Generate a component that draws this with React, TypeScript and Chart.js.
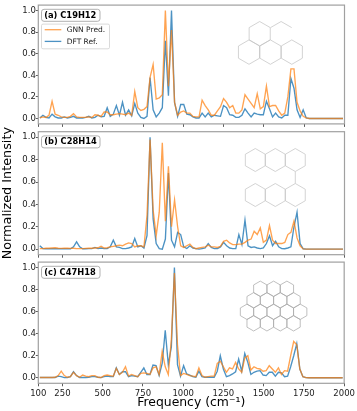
import React, { useEffect, useRef } from "react";
import { Chart, registerables } from "chart.js";

Chart.register(...registerables);

const FONT = "'DejaVu Sans'";

const binCenters = [
  109.5, 128.5, 147.5, 166.5, 185.5, 204.5, 223.5, 242.5, 261.5, 280.5,
  299.5, 318.5, 337.5, 356.5, 375.5, 394.5, 413.5, 432.5, 451.5, 470.5,
  489.5, 508.5, 527.5, 546.5, 565.5, 584.5, 603.5, 622.5, 641.5, 660.5,
  679.5, 698.5, 717.5, 736.5, 755.5, 774.5, 793.5, 812.5, 831.5, 850.5,
  869.5, 888.5, 907.5, 926.5, 945.5, 964.5, 983.5, 1002.5, 1021.5, 1040.5,
  1059.5, 1078.5, 1097.5, 1116.5, 1135.5, 1154.5, 1173.5, 1192.5, 1211.5, 1230.5,
  1249.5, 1268.5, 1287.5, 1306.5, 1325.5, 1344.5, 1363.5, 1382.5, 1401.5, 1420.5,
  1439.5, 1458.5, 1477.5, 1496.5, 1515.5, 1534.5, 1553.5, 1572.5, 1591.5, 1610.5,
  1629.5, 1648.5, 1667.5, 1686.5, 1705.5, 1724.5, 1743.5, 1762.5, 1781.5, 1800.5,
  1819.5, 1838.5, 1857.5, 1876.5, 1895.5, 1914.5, 1933.5, 1952.5, 1971.5, 1990.5,
];

const gnnA = [
  0.005, 0.015, 0.01, 0.03, 0.16, 0.04, 0.03, 0.015, 0.01, 0.01,
  0.02, 0.045, 0.015, 0.01, 0.01, 0.012, 0.015, 0.01, 0.035, 0.03,
  0.02, 0.06, 0.06, 0.035, 0.035, 0.04, 0.045, 0.04, 0.035, 0.05,
  0.03, 0.25, 0.1, 0.075, 0.085, 0.11, 0.38, 0.5, 0.18, 0.19,
  0.22, 1.0, 0.3, 0.82, 0.15, 0.03, 0.06, 0.07, 0.05, 0.05,
  0.02, 0.015, 0.015, 0.17, 0.12, 0.08, 0.03, 0.03, 0.07, 0.11,
  0.185, 0.15, 0.1, 0.12, 0.05, 0.05, 0.08, 0.22, 0.18, 0.14,
  0.1, 0.23, 0.09, 0.11, 0.3, 0.11, 0.12, 0.12, 0.07, 0.03,
  0.05, 0.2, 0.46, 0.46, 0.15, 0.07, 0.02, 0.005, 0, 0,
  0, 0, 0, 0, 0, 0, 0, 0, 0, 0,
];
const dftA = [
  0.005, 0.03, 0.01, 0.005, 0.04, 0.015, 0.005, 0.005, 0.015, 0.005,
  0.01, 0.02, 0.005, 0.005, 0.005, 0.01, 0.02, 0.005, 0.01, 0.03,
  0.015, 0.02, 0.1, 0.02, 0.04, 0.12, 0.03, 0.15, 0.03, 0.08,
  0.025, 0.14, 0.05, 0.01, 0, 0.02, 0.38, 0.08, 0.015, 0.05,
  0.1, 0.72, 0.21, 1.0, 0.15, 0.02, 0.13, 0.13, 0.04, 0.035,
  0.015, 0.005, 0.005, 0.05, 0.015, 0.05, 0.015, 0.03, 0.025, 0.02,
  0.12, 0.1, 0.035, 0.03, 0.01, 0.01, 0.03, 0.09, 0.05, 0.015,
  0.05, 0.04, 0.035, 0.035, 0.16, 0.09, 0.015, 0.05, 0.015, 0.005,
  0.03, 0.03, 0.37, 0.28, 0.08, 0.01, 0.08, 0.005, 0, 0,
  0, 0, 0, 0, 0, 0, 0, 0, 0, 0,
];
const gnnB = [
  0.005, 0.005, 0.008, 0.008, 0.01, 0.012, 0.008, 0.006, 0.008, 0.008,
  0.006, 0.008, 0.005, 0.004, 0.004, 0.006, 0.008, 0.008, 0.01, 0.012,
  0.025, 0.01, 0.012, 0.02, 0.025, 0.03, 0.035, 0.03, 0.045, 0.055,
  0.05, 0.02, 0.03, 0.03, 0.02, 0.3, 0.98, 0.35, 0.12, 0.33,
  0.95, 0.25, 0.74, 0.2, 0.44, 0.2, 0.03, 0.015, 0.03, 0.045,
  0.015, 0.003, 0.01, 0.015, 0.02, 0.035, 0.02, 0.02, 0.015, 0.025,
  0.07, 0.08, 0.055, 0.04, 0.04, 0.045, 0.045, 0.06, 0.08, 0.09,
  0.16, 0.13, 0.19, 0.06, 0.08, 0.21, 0.08, 0.05, 0.05, 0.05,
  0.06, 0.13, 0.15, 0.25, 0.1, 0.03, 0.002, 0, 0, 0,
  0, 0, 0, 0, 0, 0, 0, 0, 0, 0,
];
const dftB = [
  0.03, 0.005, 0.003, 0.003, 0.003, 0.003, 0.003, 0.003, 0.003, 0.003,
  0.003, 0.02, 0.065, 0.02, 0.003, 0.003, 0.005, 0.005, 0.015, 0.005,
  0.01, 0.005, 0.005, 0.02, 0.08, 0.02, 0.015, 0.005, 0.005, 0.01,
  0.02, 0.095, 0.02, 0.03, 0.01, 0.12, 1.0, 0.27, 0.05, 0.005,
  0, 0.09, 0.68, 0.08, 0.02, 0.15, 0.13, 0.02, 0.005, 0.03,
  0.01, 0.005, 0, 0.005, 0.01, 0.05, 0.015, 0.005, 0.005, 0.02,
  0.06, 0.03, 0.01, 0.005, 0.005, 0.13, 0.04, 0.26, 0.03, 0.015,
  0.02, 0.01, 0.005, 0.01, 0.05, 0.12, 0.03, 0.07, 0.02, 0.005,
  0.003, 0.01, 0.02, 0.2, 0.33, 0.05, 0.003, 0, 0, 0,
  0, 0, 0, 0, 0, 0, 0, 0, 0, 0,
];
const gnnC = [
  0.003, 0.003, 0.003, 0.003, 0.003, 0.005, 0.02, 0.06, 0.02, 0.005,
  0.01, 0.05, 0.02, 0.005, 0.025, 0.015, 0.01, 0.02, 0.02, 0.005,
  0.003, 0.02, 0.025, 0.02, 0.015, 0.085, 0.03, 0.05, 0.1, 0.015,
  0.03, 0.02, 0.01, 0.04, 0.045, 0.04, 0.03, 0.09, 0.1, 0.03,
  0.24, 0.1, 0.03, 0.35, 0.95, 0.3, 0.02, 0.04, 0.03, 0.02,
  0.015, 0.01, 0.09, 0.02, 0.005, 0.01, 0.015, 0.015, 0.13, 0.15,
  0.1, 0.05, 0.09, 0.08, 0.14, 0.08, 0.05, 0.18, 0.2, 0.07,
  0.1, 0.085, 0.08, 0.06, 0.065, 0.11, 0.08, 0.05, 0.09, 0.03,
  0.065, 0.06, 0.2, 0.33, 0.3, 0.08, 0.01, 0.002, 0, 0,
  0, 0, 0, 0, 0, 0, 0, 0, 0, 0,
];
const dftC = [
  0.003, 0.003, 0.003, 0.003, 0.003, 0.003, 0.015, 0.01, 0.002, 0.003,
  0.01, 0.055, 0.02, 0.003, 0.003, 0.003, 0.005, 0.01, 0.01, 0.005,
  0.002, 0.01, 0.015, 0.01, 0.01, 0.09, 0.03, 0.055, 0.055, 0.01,
  0.02, 0.015, 0.01, 0.05, 0.09, 0.03, 0.03, 0.115, 0.11, 0.02,
  0.13, 0.43, 0.12, 0.28, 1.0, 0.12, 0.015, 0.11, 0.035, 0.025,
  0.01, 0.005, 0.06, 0.01, 0.005, 0.005, 0.005, 0.005, 0.06, 0.2,
  0.08, 0.01, 0.02, 0.035, 0.055, 0.17, 0.06, 0.22, 0.14, 0.03,
  0.05, 0.06, 0.065, 0.025, 0.02, 0.05, 0.05, 0.015, 0.05, 0.045,
  0.01, 0.015, 0.1, 0.2, 0.31, 0.08, 0.01, 0.002, 0, 0,
  0, 0, 0, 0, 0, 0, 0, 0, 0, 0,
];

const xTickValues = [100, 250, 500, 750, 1000, 1250, 1500, 1750, 2000];
const yTickValues = [0, 0.2, 0.4, 0.6, 0.8, 1.0];
const seriesNames = ["GNN Pred.", "DFT Ref."];
const panelLabels = ["(a) C19H12", "(b) C28H14", "(c) C47H18"];

const ORANGE = "rgba(255,127,14,0.72)";
const BLUE = "rgba(31,119,180,0.8)";
const FRAME = "#a0a0a0";

function hexPath(ctx: CanvasRenderingContext2D, cx: number, cy: number, r: number, edges = [0, 1, 2, 3, 4, 5]) {
  for (const e of edges) {
    const a0 = (-90 + 60 * e) * Math.PI / 180;
    const a1 = (-90 + 60 * (e + 1)) * Math.PI / 180;
    ctx.beginPath();
    ctx.moveTo(cx + r * Math.cos(a0), cy + r * Math.sin(a0));
    ctx.lineTo(cx + r * Math.cos(a1), cy + r * Math.sin(a1));
    ctx.stroke();
  }
}

function drawMolecule(ctx: CanvasRenderingContext2D, which: number, ca: any) {
  ctx.save();
  ctx.strokeStyle = "#c4c4c4";
  ctx.lineWidth = 0.75;
  if (which === 0) {
    const ox = ca.left + 221.4, oy = ca.top + 28.6, r = 12.2, w = 21.4, h = 18.4;
    hexPath(ctx, ox, oy, r);
    hexPath(ctx, ox + w, oy, r, [5, 0]);
    [-0.5, 0.5, 1.5].forEach((c) => hexPath(ctx, ox + c * w, oy + h, r));
  } else if (which === 1) {
    const ox = ca.left + 217, r = 11.5, w = 20;
    [ca.top + 28.3, ca.top + 63.3].forEach((y) => [0, 1, 2].forEach((c) => hexPath(ctx, ox + c * w, y, r)));
    ctx.beginPath();
    ctx.moveTo(ox + 2 * w, ca.top + 39.8);
    ctx.lineTo(ox + 2 * w, ca.top + 51.8);
    ctx.stroke();
  } else {
    ctx.strokeStyle = "#aaaaaa";
    const ox = ca.left + 222, oy = ca.top + 26.7, r = 7.7, w = 13.3, h = 11.5;
    [[0, 1, 2], [-0.5, 0.5, 1.5, 2.5], [-1, 0, 1, 2, 3], [-0.5, 0.5, 1.5, 2.5]].forEach((row, j) =>
      row.forEach((c) => hexPath(ctx, ox + c * w, oy + j * h, r))
    );
  }
  ctx.restore();
}

const decorPlugin = {
  id: "decor",
  afterDatasetsDraw(chart: any, _a: any, opts: any) {
    const { ctx, chartArea: ca } = chart;
    ctx.save();
    drawMolecule(ctx, opts.index, ca);
    ctx.strokeStyle = FRAME;
    ctx.lineWidth = 1.2;
    ctx.strokeRect(ca.left, ca.top, ca.right - ca.left, ca.bottom - ca.top);

    ctx.fillStyle = "#fff";
    ctx.strokeStyle = "#a8a8a8";
    ctx.lineWidth = 0.9;
    ctx.beginPath();
    ctx.roundRect(41.5, ca.top + 4.2, 58.5, 12, 2.5);
    ctx.fill();
    ctx.stroke();
    ctx.fillStyle = "#000";
    ctx.font = `bold 8.3px ${FONT}`;
    ctx.textBaseline = "middle";
    ctx.textAlign = "left";
    ctx.fillText(panelLabels[opts.index], 44.2, ca.top + 10.4);

    if (opts.legend) {
      const t = ca.top;
      ctx.fillStyle = "rgba(255,255,255,0.85)";
      ctx.strokeStyle = "#d0d0d0";
      ctx.lineWidth = 0.8;
      ctx.beginPath();
      ctx.roundRect(41.5, t + 19, 68, 24.7, 1.5);
      ctx.fill();
      ctx.stroke();
      chart.data.datasets.forEach((d: any, i: number) => {
        const y = t + 24.6 + i * 11.7;
        ctx.strokeStyle = d.borderColor;
        ctx.lineWidth = 1.3;
        ctx.beginPath();
        ctx.moveTo(44.7, y);
        ctx.lineTo(61.3, y);
        ctx.stroke();
        ctx.fillStyle = "#222";
        ctx.font = `7.5px ${FONT}`;
        ctx.fillText(d.label, 66.7, y + 0.5);
      });
    }
    ctx.restore();
  },
};

const panelLayouts = [
  { top: 0, height: 129, areaTop: 2.7, areaBottom: 126 },
  { top: 122, height: 140, areaTop: 9.7, areaBottom: 132.7 },
  { top: 257, height: 154, areaTop: 3, areaBottom: 126.3 },
];

function makeChart(canvas: HTMLCanvasElement, index: number, gnn: number[], dft: number[]) {
  const layout = panelLayouts[index];
  const showX = index === 2;
  const showYTitle = index === 1;
  return new Chart(canvas, {
    type: "line",
    data: {
      labels: binCenters,
      datasets: [
        { label: seriesNames[0], data: gnn.map((y, i) => ({ x: binCenters[i], y })), borderColor: ORANGE, borderWidth: 1.35, pointRadius: 0, tension: 0 },
        { label: seriesNames[1], data: dft.map((y, i) => ({ x: binCenters[i], y })), borderColor: BLUE, borderWidth: 1.35, pointRadius: 0, tension: 0 },
      ],
    },
    options: {
      responsive: false,
      animation: false,
      devicePixelRatio: 1,
      layout: { padding: { top: layout.areaTop, right: 12.5, left: 0, bottom: 0 } },
      plugins: {
        legend: { display: false },
        tooltip: { enabled: false },
        decor: { index, legend: index === 0 },
      } as any,
      scales: {
        x: {
          type: "linear",
          min: 100,
          max: 2000,
          afterBuildTicks: (s: any) => { s.ticks = xTickValues.map((value) => ({ value })); },
          afterFit: (s: any) => { s.height = layout.height - layout.areaBottom; },
          grid: { drawOnChartArea: false, drawTicks: true, tickLength: 3, tickColor: "#333", tickWidth: 0.8 },
          border: { display: false },
          ticks: {
            display: showX,
            autoSkip: false,
            maxRotation: 0,
            padding: 2,
            color: "#222",
            font: { family: FONT, size: 8.5 },
            callback: (v: any) => String(v),
          },
          title: {
            display: showX,
            text: "Frequency (cm⁻¹)",
            color: "#000",
            font: { family: FONT, size: 12.4 },
            padding: { top: 0, bottom: 1 },
          },
        },
        y: {
          min: -0.05,
          max: 1.05,
          afterBuildTicks: (s: any) => { s.ticks = yTickValues.map((value) => ({ value })); },
          afterFit: (s: any) => { s.width = 38.3; },
          grid: { drawOnChartArea: false, drawTicks: true, tickLength: 2.5, tickColor: "#333", tickWidth: 0.8 },
          border: { display: false },
          ticks: {
            autoSkip: false,
            padding: 0,
            color: "#222",
            font: { family: FONT, size: 8.5 },
            callback: (v: any) => Number(v).toFixed(1),
          },
          title: {
            display: showYTitle,
            text: "Normalized Intensity",
            color: "#000",
            font: { family: FONT, size: 12.8 },
            padding: { top: 0, bottom: 0 },
          },
        },
      },
    } as any,
    plugins: [decorPlugin],
  });
}

export default function App() {
  const a = useRef<HTMLCanvasElement>(null);
  const b = useRef<HTMLCanvasElement>(null);
  const c = useRef<HTMLCanvasElement>(null);
  useEffect(() => {
    const charts = [
      makeChart(a.current!, 0, gnnA, dftA),
      makeChart(b.current!, 1, gnnB, dftB),
      makeChart(c.current!, 2, gnnC, dftC),
    ];
    return () => charts.forEach((ch) => ch.destroy());
  }, []);
  const refs = [a, b, c];
  return (
    <div style={{ position: "absolute", left: 0, top: 0, width: 357, height: 411, background: "#fff" }}>
      {panelLayouts.map((p, i) => (
        <canvas
          key={i}
          ref={refs[i]}
          width={357}
          height={p.height}
          style={{ position: "absolute", left: 0, top: p.top, width: 357, height: p.height, display: "block" }}
        />
      ))}
    </div>
  );
}
